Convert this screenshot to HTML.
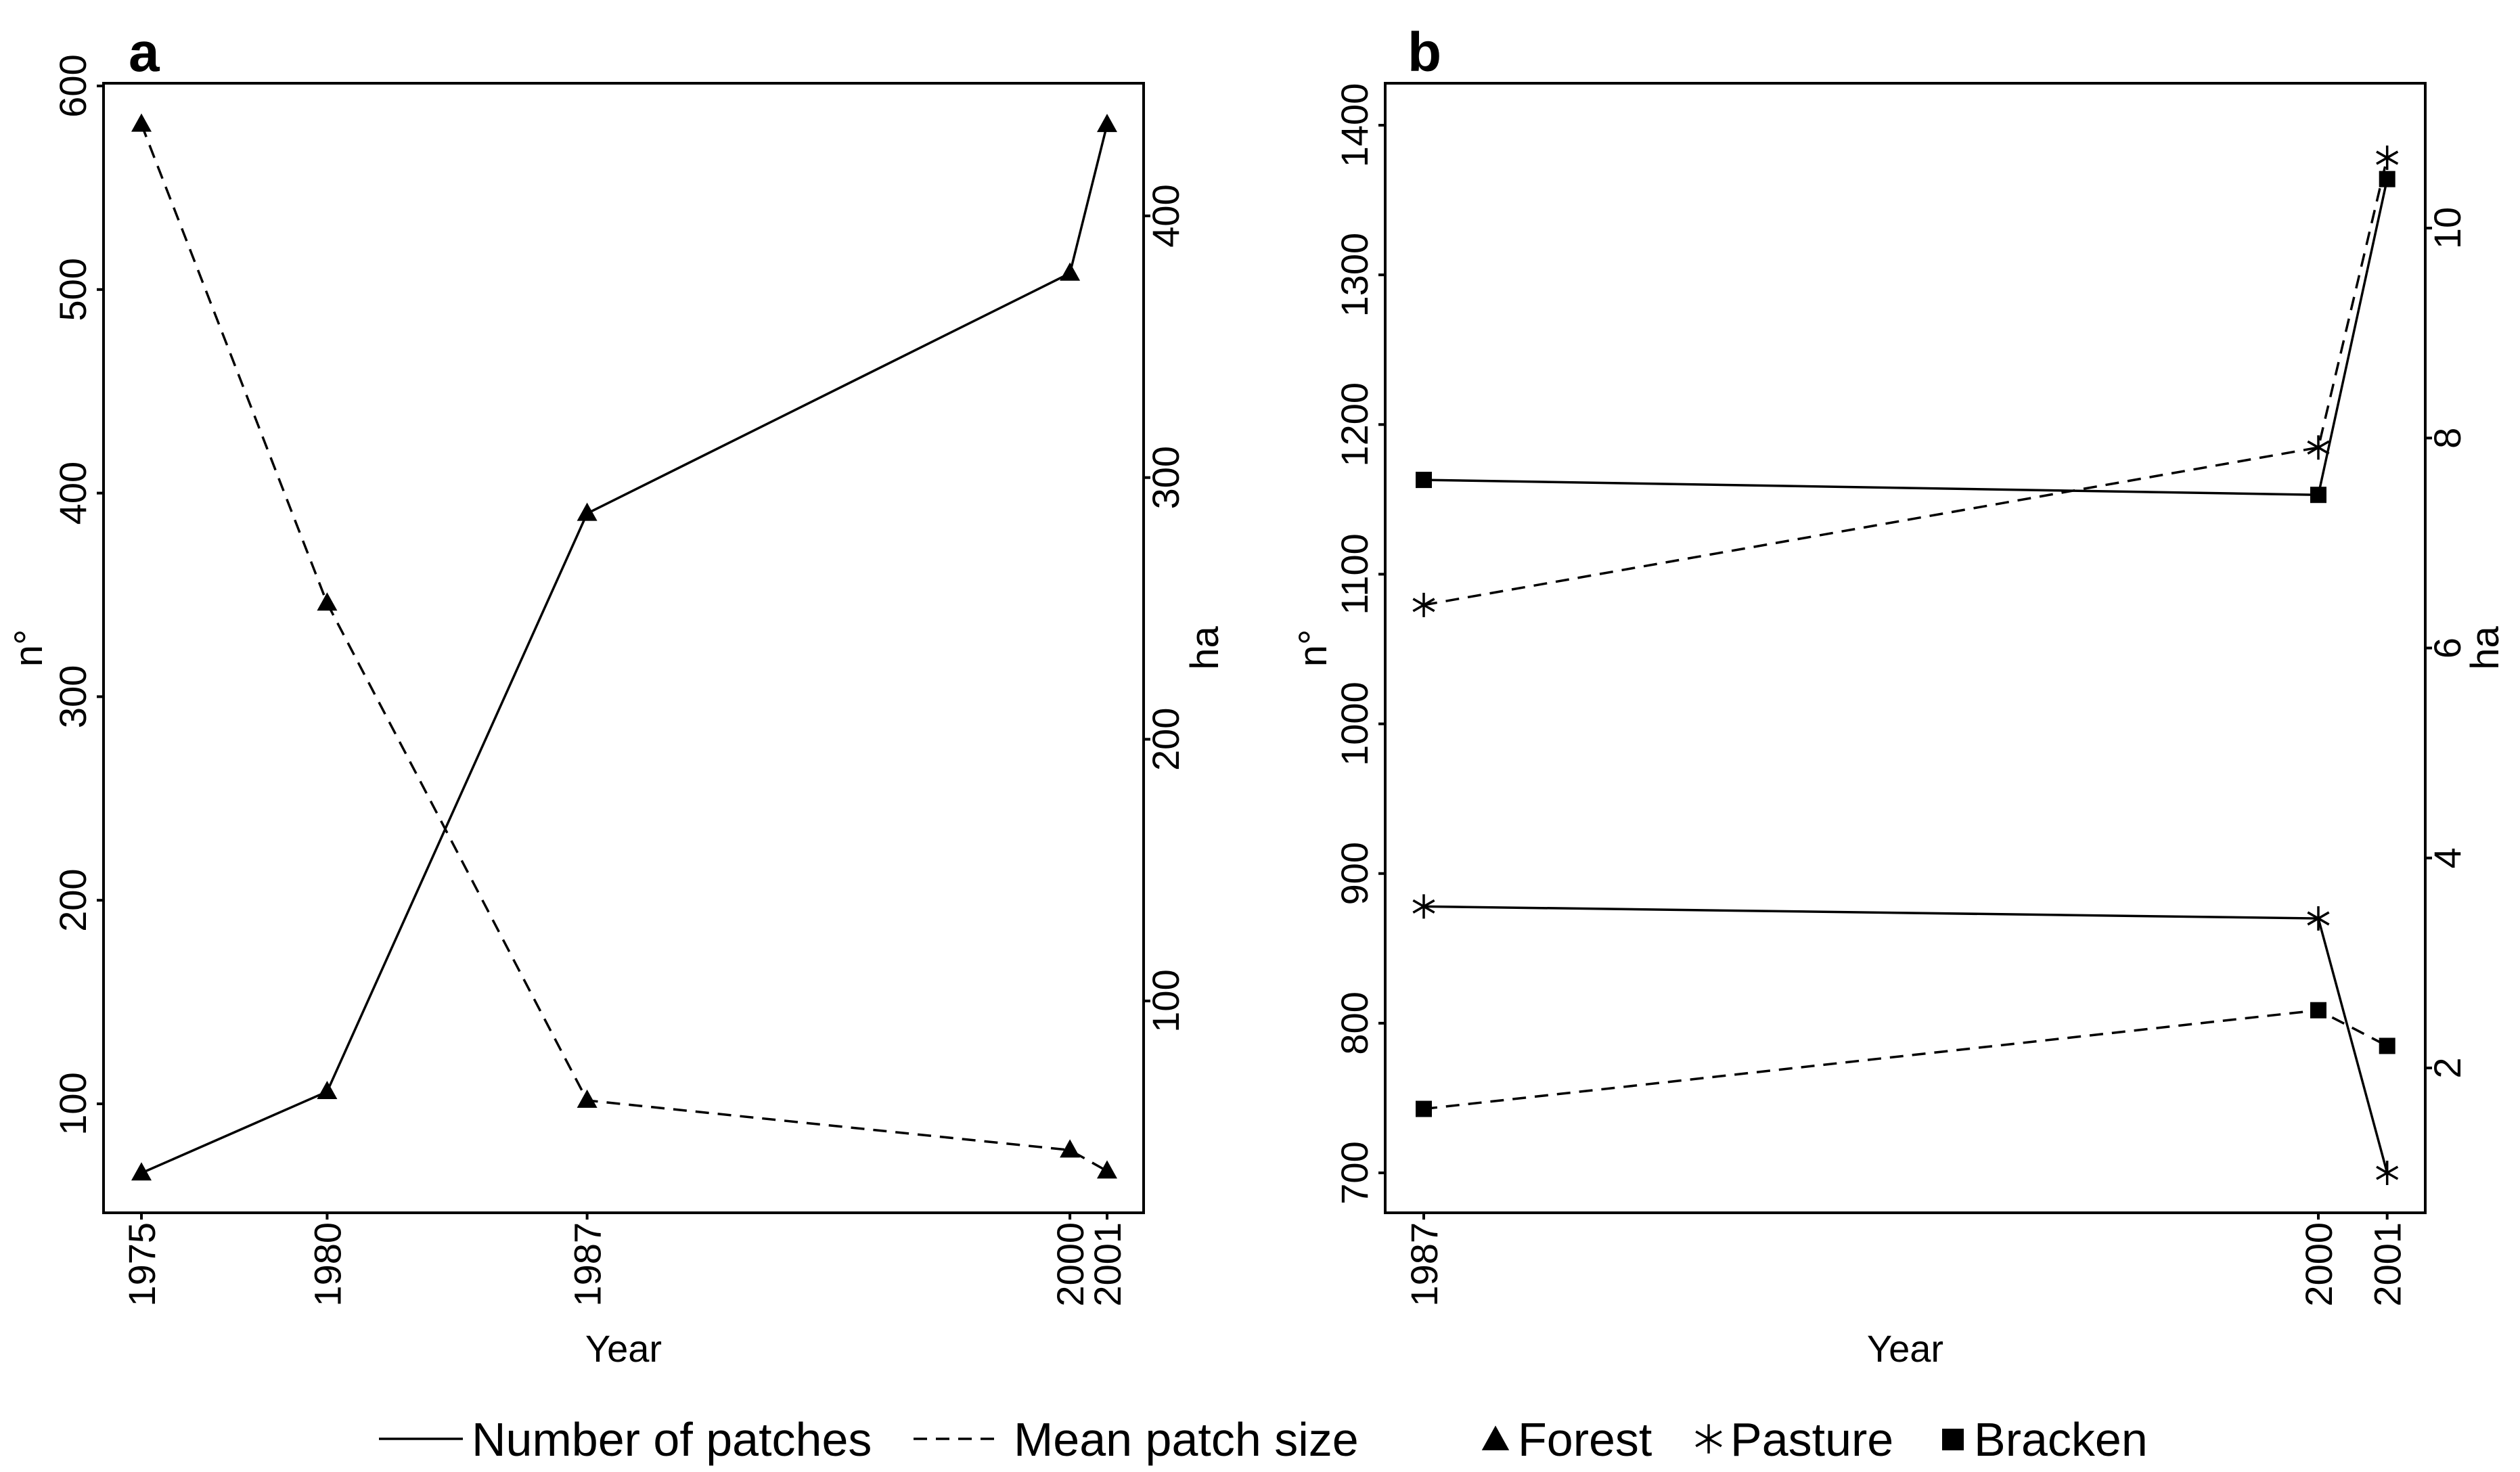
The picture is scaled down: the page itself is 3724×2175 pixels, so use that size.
<!DOCTYPE html>
<html><head><meta charset="utf-8"><style>
html,body{margin:0;padding:0;background:#fff}
svg{display:block}
text{font-family:"Liberation Sans",sans-serif;fill:#000}
</style></head><body>
<svg id="chart" width="3724" height="2175" viewBox="0 0 3724 2175" xmlns="http://www.w3.org/2000/svg"></svg>
<script>
// Panel a data
const yearsA = [1975, 1980, 1987, 2000, 2001];
const forestPatches = [66, 106, 390, 508, 581];
const forestMeanSize = [435, 252, 62, 43, 35];
const ticksALeft = [100, 200, 300, 400, 500, 600];
const ticksARight = [100, 200, 300, 400];
// Panel b data
const yearsB = [1987, 2000, 2001];
const pasturePatches = [878, 870, 700];
const brackenPatches = [1163, 1153, 1364];
const pastureMeanSize = [6.41, 7.91, 10.67];
const brackenMeanSize = [1.61, 2.55, 2.21];
const ticksBLeft = [700, 800, 900, 1000, 1100, 1200, 1300, 1400];
const ticksBRight = [2, 4, 6, 8, 10];

const NS = "http://www.w3.org/2000/svg";
const svg = document.getElementById('chart');
function mk(tag, attrs, parent) {
  const e = document.createElementNS(NS, tag);
  for (const k in attrs) e.setAttribute(k, attrs[k]);
  (parent || svg).appendChild(e);
  return e;
}
function lin(d0, d1, r0, r1) { return v => r0 + (v - d0) * (r1 - r0) / (d1 - d0); }

function marker(g, type, x, y, s) {
  s = s || 1;
  let m;
  if (type === 'tri') {
    m = mk('polygon', {points: `${x},${y-16*s} ${x-15*s},${y+11*s} ${x+15*s},${y+11*s}`, fill: '#000'}, g);
  } else if (type === 'sq') {
    m = mk('rect', {x: x-12*s, y: y-12*s, width: 24*s, height: 24*s, fill: '#000'}, g);
  } else {
    m = mk('g', {stroke: '#000', 'stroke-width': 3.5}, g);
    const r = 18*s;
    mk('line', {x1: x, y1: y-r, x2: x, y2: y+r}, m);
    mk('line', {x1: x-r*0.87, y1: y-r*0.5, x2: x+r*0.87, y2: y+r*0.5}, m);
    mk('line', {x1: x-r*0.87, y1: y+r*0.5, x2: x+r*0.87, y2: y-r*0.5}, m);
  }
  return m;
}

function series(name, xs, ys, X, Y, dashed, mtype) {
  const g = mk('g', {});
  
  
  const pts = xs.map((v, i) => `${X(v)},${Y(ys[i])}`).join(' ');
  const pl = mk('polyline', {points: pts, fill: 'none', stroke: '#000', 'stroke-width': 3.5,
    'stroke-dasharray': dashed ? '20 13' : 'none'}, g);
  
  
  xs.forEach((v, i) => {
    const m = marker(g, mtype, X(v), Y(ys[i]));
    
    
  });
}

function vtext(x, y, str, anchor, size, name) {
  const t = mk('text', {x: 0, y: 0, 'font-size': size, 'text-anchor': anchor,
    transform: `translate(${x},${y}) rotate(-90)`});
  t.textContent = str;
  
  
  return t;
}

function panel(o) {
  const box = mk('rect', {x: o.L, y: o.T, width: o.R - o.L, height: o.B - o.T, fill: 'none', stroke: '#000', 'stroke-width': 4});
  
  
  o.tl.forEach(v => {
    const y = o.YL(v);
    mk('line', {x1: o.L - 10, y1: y, x2: o.L, y2: y, stroke: '#000', 'stroke-width': 4});
    vtext(o.L - 26, y, String(v), 'middle', 56, o.id + '-left-tick-label');
  });
  o.tr.forEach(v => {
    const y = o.YR(v);
    mk('line', {x1: o.R, y1: y, x2: o.R + 10, y2: y, stroke: '#000', 'stroke-width': 4});
    vtext(o.R + 52, y, String(v), 'middle', 56, o.id + '-right-tick-label');
  });
  o.years.forEach(v => {
    const x = o.X(v);
    mk('line', {x1: x, y1: o.B, x2: x, y2: o.B + 10, stroke: '#000', 'stroke-width': 4});
    vtext(x + 20, o.B + 14, String(v), 'end', 56, o.id + '-year-tick-label');
  });
  const yl = mk('text', {x: (o.L + o.R) / 2, y: 2012, 'font-size': 56, 'text-anchor': 'middle'});
  yl.textContent = 'Year';
  
  
  vtext(o.nx, (o.T + o.B) / 2, 'n°', 'middle', 58, o.id + '-left-axis-title');
  vtext(o.hx, (o.T + o.B) / 2, 'ha', 'middle', 58, o.id + '-right-axis-title');
  const pl = mk('text', {x: o.lx, y: 105, 'font-size': 82, 'font-weight': 'bold'});
  pl.textContent = o.id;
  
  
}

// Panel a
const XA = lin(1975, 2001, 209, 1636);
const YAL = lin(100, 600, 1631, 127);
const YAR = lin(100, 400, 1479, 319);
panel({id: 'a', L: 153, R: 1690, T: 123, B: 1792, X: XA, YL: YAL, YR: YAR,
  tl: ticksALeft, tr: ticksARight, years: yearsA, nx: 62, hx: 1800, lx: 190});
series('forest-number-of-patches', yearsA, forestPatches, XA, YAL, false, 'tri');
series('forest-mean-patch-size', yearsA, forestMeanSize, XA, YAR, true, 'tri');

// Panel b
const XB = lin(1987, 2000, 2104, 3426);
const YBL = lin(700, 1400, 1733, 185);
const YBR = lin(2, 10, 1578, 337);
panel({id: 'b', L: 2047, R: 3584, T: 123, B: 1792, X: XB, YL: YBL, YR: YBR,
  tl: ticksBLeft, tr: ticksBRight, years: yearsB, nx: 1960, hx: 3692, lx: 2080});
series('pasture-number-of-patches', yearsB, pasturePatches, XB, YBL, false, 'ast');
series('bracken-number-of-patches', yearsB, brackenPatches, XB, YBL, false, 'sq');
series('pasture-mean-patch-size', yearsB, pastureMeanSize, XB, YBR, true, 'ast');
series('bracken-mean-patch-size', yearsB, brackenMeanSize, XB, YBR, true, 'sq');

// Legend
const lg = mk('g', {});


const LY = 2126;
mk('line', {x1: 560, y1: LY, x2: 684, y2: LY, stroke: '#000', 'stroke-width': 3.5}, lg);
let t = mk('text', {x: 697, y: LY + 25, 'font-size': 70}, lg); t.textContent = 'Number of patches';


mk('line', {x1: 1350, y1: LY, x2: 1474, y2: LY, stroke: '#000', 'stroke-width': 3.5, 'stroke-dasharray': '20 13'}, lg);
t = mk('text', {x: 1498, y: LY + 25, 'font-size': 70}, lg); t.textContent = 'Mean patch size';


marker(lg, 'tri', 2210, LY + 2, 1.35);
t = mk('text', {x: 2243, y: LY + 25, 'font-size': 70}, lg); t.textContent = 'Forest';


marker(lg, 'ast', 2525, LY, 1.2);
t = mk('text', {x: 2557, y: LY + 25, 'font-size': 70}, lg); t.textContent = 'Pasture';


mk('rect', {x: 2870, y: LY - 15, width: 32, height: 32, fill: '#000'}, lg);
t = mk('text', {x: 2917, y: LY + 25, 'font-size': 70}, lg); t.textContent = 'Bracken';


</script>
</body></html>
